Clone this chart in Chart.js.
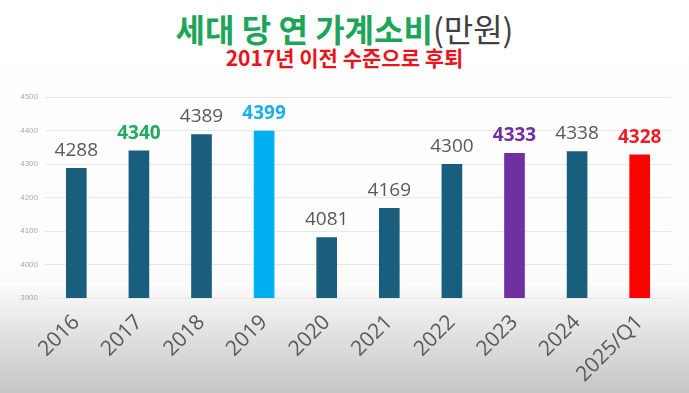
<!DOCTYPE html>
<html>
<head>
<meta charset="utf-8">
<script src="https://cdn.jsdelivr.net/npm/chart.js@4.4.1/dist/chart.umd.min.js"></script>
<style>
html, body { margin:0; padding:0; }
body {
  width:689px; height:393px; overflow:hidden; position:relative;
  background: linear-gradient(to bottom, #ffffff 0%, #fcfcfc 72%, #dcdcdc 88%, #c6c6c6 100%);
  font-family: "Noto Sans CJK KR", "Noto Sans", sans-serif;
}
#title { position:absolute; top:12px; left:0; width:689px; text-align:center;
  font-size:32px; font-weight:bold; color:#1fa55a; line-height:32px; }
#title span { color:#404040; font-weight:normal; }
#sub { position:absolute; top:45px; left:0; width:689px; text-align:center;
  font-size:21px; font-weight:bold; color:#e8141c; line-height:24px; }
#wrap { position:absolute; left:0; top:0; width:689px; height:393px; }
</style>
</head>
<body>
<div id="title">세대 당 연 가계소비<span>(만원)</span></div>
<div id="sub">2017년 이전 수준으로 후퇴</div>
<div id="wrap"><canvas id="myChart" width="689" height="393"></canvas></div>
<script>
var years = ["2016","2017","2018","2019","2020","2021","2022","2023","2024","2025/Q1"];
var spending = [4288, 4340, 4389, 4399, 4081, 4169, 4300, 4333, 4338, 4328];
var barColors = ["#195e7d","#195e7d","#195e7d","#00b0f0","#195e7d","#195e7d","#195e7d","#7030a0","#195e7d","#ff0000"];
var labelColors = ["#595959","#22aa5e","#595959","#1ab0e8","#595959","#595959","#595959","#7030a0","#595959","#ee1c24"];
var labelBold = [false, true, false, true, false, false, false, true, false, true];

// value labels above bars
const valueLabels = {
  id: 'valueLabels',
  afterDatasetsDraw(chart) {
    const ctx = chart.ctx;
    const meta = chart.getDatasetMeta(0);
    ctx.save();
    ctx.textAlign = 'center';
    ctx.textBaseline = 'bottom';
    meta.data.forEach((bar, i) => {
      ctx.font = (labelBold[i] ? 'bold ' : '') + '19px "Open Sans", "Noto Sans", sans-serif';
      ctx.fillStyle = labelColors[i];
      ctx.fillText(spending[i], bar.x, bar.y - 8);
    });
    ctx.restore();
  }
};

const ctx = document.getElementById('myChart');
new Chart(ctx, {
  type: 'bar',
  data: {
    labels: years,
    datasets: [{
      data: spending,
      backgroundColor: barColors,
      barPercentage: 0.33,
      categoryPercentage: 1.0
    }]
  },
  options: {
    responsive: false,
    animation: false,
    layout: { padding: { top: 97, right: 18, left: 0, bottom: 0 } },
    plugins: { legend: { display: false }, tooltip: { enabled: false } },
    scales: {
      y: {
        min: 3900, max: 4500,
        ticks: { stepSize: 100, color: '#a8a8a8', font: { size: 8 }, padding: 7,
          callback: function(v) { return String(v); } },
        grid: { color: '#e8e8e8', drawTicks: false },
        border: { display: false },
        afterFit(scale) { scale.width = 45; }
      },
      x: {
        ticks: { color: '#595959', font: { size: 21, family: '"Open Sans", sans-serif' }, maxRotation: 45, minRotation: 45, padding: 4 },
        grid: { display: false },
        border: { display: false },
        afterFit(scale) { scale.height = 95; }
      }
    }
  },
  plugins: [valueLabels]
});
</script>
</body>
</html>
